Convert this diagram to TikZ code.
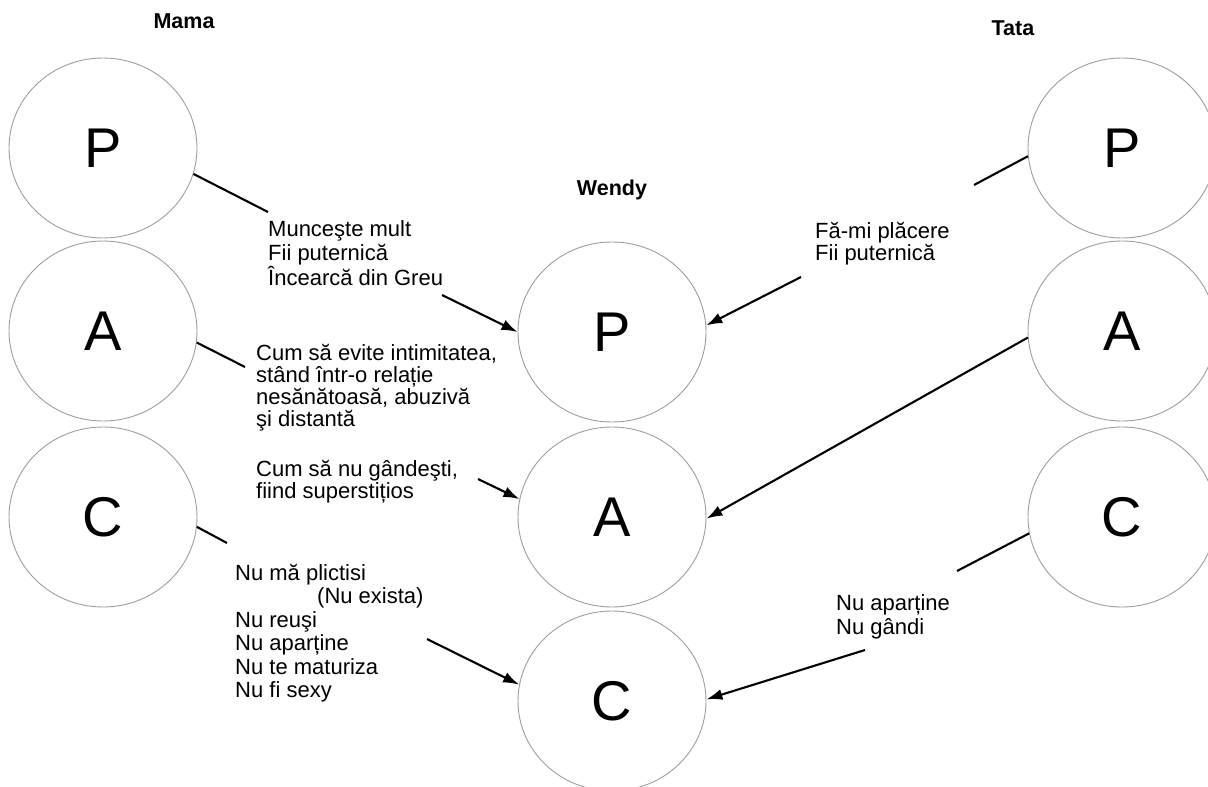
\documentclass[tikz,border=0pt]{standalone}
\usepackage{fontspec}
\setmainfont{Liberation Sans}
\usetikzlibrary{shapes.geometric,arrows.meta}
\begin{document}
\begin{tikzpicture}[x=1pt,y=-1pt,
  ego/.style={ellipse,draw=black!38,line width=0.9pt,minimum width=188pt,minimum height=180pt,inner sep=0pt,font=\fontsize{56}{60}\selectfont},
  who/.style={font=\fontsize{21.5}{24}\selectfont\bfseries,anchor=base,inner sep=0pt},
  msg/.style={anchor=north west,align=left,inner sep=0pt,font=\fontsize{22}{#1}\selectfont},
  link/.style={line width=2.1pt},
  arr/.style={line width=2.1pt,-{Latex[length=16pt,width=11pt]}}]
\clip (0,0) rectangle (1208,787);
% labels
\node[who] (mama) at (184,28) {Mama};
\node[who] (tata) at (1013,35) {Tata};
\node[who] (wendy) at (612,195) {Wendy};
% Mama
\node[ego] (lP) at (103,148) {P};
\node[ego] (lA) at (103,331) {A};
\node[ego] (lC) at (103,517) {C};
% Wendy
\node[ego] (wP) at (612,332) {P};
\node[ego] (wA) at (612,517) {A};
\node[ego] (wC) at (612,701) {C};
% Tata
\node[ego] (rP) at (1122,148) {P};
\node[ego] (rA) at (1122,331) {A};
\node[ego] (rC) at (1122,517) {C};
% messages
\node[msg=24.5] (m1) at (268,220) {Munceşte mult\\Fii puternică\\Încearcă din Greu};
\node[msg=22] (m2) at (256,344) {Cum să evite intimitatea,\\stând într-o relație\\nesănătoasă, abuzivă\\şi distantă};
\node[msg=22] (m3) at (256,460) {Cum să nu gândeşti,\\fiind superstițios};
\node[msg=23.5] (m4) at (235,564) {Nu mă plictisi\\\hspace*{82pt}(Nu exista)\\Nu reuşi\\Nu aparține\\Nu te maturiza\\Nu fi sexy};
\node[msg=22] (m5) at (815,222) {Fă-mi plăcere\\Fii puternică};
\node[msg=24] (m6) at (836,594) {Nu aparține\\Nu gândi};
% free ends
\coordinate (e1) at (268,212);
\coordinate (e2) at (245,367);
\coordinate (e3) at (227,543);
\coordinate (e4) at (974,185);
\coordinate (e5) at (957,571);
\coordinate (s1) at (442,295);
\coordinate (s2) at (478,479);
\coordinate (s3) at (427,639);
\coordinate (s4) at (801,277);
\coordinate (s5) at (865,650);
% lines from parents
\draw[link] (lP.-16) -- (e1);
\draw[link] (lA.-7) -- (e2);
\draw[link] (lC.-6) -- (e3);
\draw[link] (rP.185.5) -- (e4);
\draw[link] (rC.190) -- (e5);
% arrows into Wendy
\draw[arr] (s1) -- (wP.180);
\draw[arr] (s2) -- (wA.169);
\draw[arr] (s3) -- (wC.170);
\draw[arr] (s4) -- (wP.4);
\draw[arr] (rA.184) -- (wA.-1);
\draw[arr] (s5) -- (wC.1);
\end{tikzpicture}
\end{document}
